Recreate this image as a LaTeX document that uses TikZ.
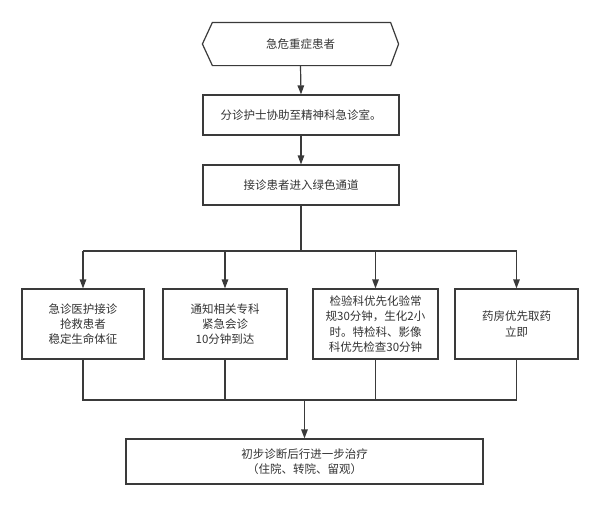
\documentclass[tikz,border=0pt]{standalone}
\usepackage{fontspec}
\setmainfont{Noto Sans CJK SC}
\usetikzlibrary{arrows.meta}
\definecolor{linec}{HTML}{3A3A3A}
\definecolor{txt}{HTML}{333333}
\begin{document}
\begin{tikzpicture}[x=1pt,y=-1pt,
  box/.style={draw=linec, line width=1.2pt, fill=white, text=txt,
    font=\fontsize{11.5}{15.3}\selectfont, align=center, inner sep=0pt},
  arr/.style={draw=linec, line width=1.2pt, -{Triangle[length=9pt,width=6.5pt]}},
  ln/.style={draw=linec, line width=1.2pt}]
\useasboundingbox (0,0) rectangle (600,507);
% start hexagon
\node[box, draw=none, fill=none, minimum width=195pt, minimum height=42pt] (start) at (300.5,44) {急危重症患者};
\draw[ln, line join=miter] (start.west) -- ([xshift=10pt]start.north west) -- ([xshift=-8pt]start.north east)
  -- (start.east) -- ([xshift=-8pt]start.south east) -- ([xshift=10pt]start.south west) -- cycle;
\node[box, minimum width=196pt, minimum height=40pt] (b2) at (301,115) {分诊护士协助至精神科急诊室。};
\node[box, minimum width=196pt, minimum height=40pt] (b3) at (301,185) {接诊患者进入绿色通道};
\draw[arr] (start.south) -- (b2.north);
\draw[arr] (b2.south) -- (b3.north);
% row
\node[box, minimum width=122pt, minimum height=70pt] (a) at (83,324) {急诊医护接诊\\抢救患者\\稳定生命体征};
\node[box, minimum width=124pt, minimum height=70pt] (b) at (225,324) {通知相关专科\\紧急会诊\\10分钟到达};
\node[box, minimum width=125pt, minimum height=70pt] (c) at (375.5,324) {检验科优先化验常\\规30分钟，生化2小\\时。特检科、影像\\科优先检查30分钟};
\node[box, minimum width=123pt, minimum height=70pt] (d) at (516.5,324) {药房优先取药\\立即};
\node[box, minimum width=357pt, minimum height=45pt] (e) at (304.5,461.5) {初步诊断后行进一步治疗\\（住院、转院、留观）};
% split
\coordinate (split) at (301,251);
\coordinate (merge) at (304.5,400);
\draw[ln] (b3.south) -- (split);
\draw[ln] (split -| a) -- (split -| d);
\draw[arr] (split -| a) -- (a.north);
\draw[arr] (split -| b) -- (b.north);
\draw[arr] (split -| c) -- (c.north);
\draw[arr] (split -| d) -- (d.north);
% merge
\draw[ln] (a.south) -- (merge -| a) -- (merge -| d) -- (d.south);
\draw[ln] (b.south) -- (merge -| b);
\draw[ln] (c.south) -- (merge -| c);
\draw[arr] (merge) -- (e.north);
\end{tikzpicture}
\end{document}
